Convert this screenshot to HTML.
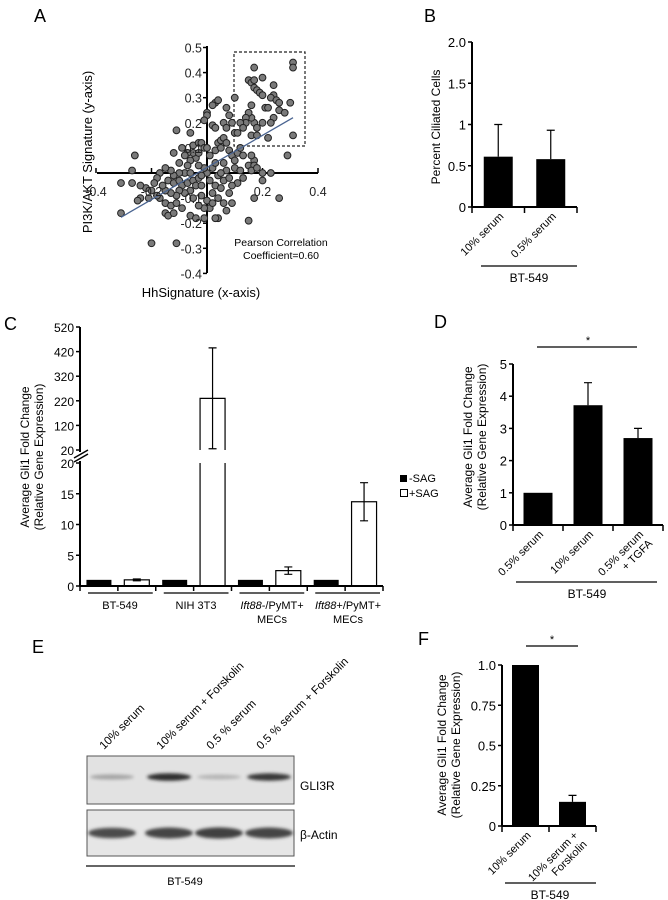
<!DOCTYPE html>
<html><head><meta charset="utf-8"><style>
html,body{margin:0;padding:0;background:#fff;}
svg{display:block;font-family:"Liberation Sans",sans-serif;}
</style></head><body>
<svg id="fig" width="668" height="900" viewBox="0 0 668 900" xmlns="http://www.w3.org/2000/svg">
<defs><filter id="blur" x="-20%" y="-50%" width="140%" height="200%"><feGaussianBlur stdDeviation="1.6"/></filter></defs>
<g id="pa">
 <text x="34" y="22" font-size="18">A</text>
 <text transform="translate(92,152) rotate(-90)" font-size="13" text-anchor="middle">PI3K/AKT Signature (y-axis)</text>
 <text x="201" y="297" font-size="13" text-anchor="middle">HhSignature (x-axis)</text>
 <text x="281" y="246" font-size="10.5" text-anchor="middle">Pearson Correlation</text>
 <text x="281" y="259" font-size="10.5" text-anchor="middle">Coefficient=0.60</text>
 <rect x="234" y="52" width="71" height="94" fill="none" stroke="#222" stroke-width="1.2" stroke-dasharray="3,2"/>
</g>
<g id="pb">
 <text x="424" y="22" font-size="18">B</text>
 <text transform="translate(440,127) rotate(-90)" font-size="12" text-anchor="middle">Percent Ciliated Cells</text>
 <line x1="481" y1="266" x2="577" y2="266" stroke="#000" stroke-width="1.3"/>
 <text x="529" y="282" font-size="12" text-anchor="middle">BT-549</text>
</g>
<g id="pc">
 <text x="4" y="330" font-size="18">C</text>
 <text transform="translate(29,457) rotate(-90)" font-size="12" text-anchor="middle">Average Gli1 Fold Change</text>
 <text transform="translate(43,457) rotate(-90)" font-size="12" text-anchor="middle">(Relative Gene Expression)</text>
 <rect x="400" y="475" width="7" height="7" fill="#000"/>
 <text x="409" y="482" font-size="11">-SAG</text>
 <rect x="400.5" y="489.5" width="7" height="7" fill="#fff" stroke="#000"/>
 <text x="409" y="497" font-size="11">+SAG</text>
 <text x="120" y="609" font-size="11" text-anchor="middle">BT-549</text>
 <text x="196" y="609" font-size="11" text-anchor="middle">NIH 3T3</text>
 <text x="272" y="609" font-size="11" text-anchor="middle"><tspan font-style="italic">Ift88</tspan>-/PyMT+</text>
 <text x="272" y="623" font-size="11" text-anchor="middle">MECs</text>
 <text x="348" y="609" font-size="11" text-anchor="middle"><tspan font-style="italic">Ift88</tspan>+/PyMT+</text>
 <text x="348" y="623" font-size="11" text-anchor="middle">MECs</text>
</g>
<g id="pd">
 <text x="434" y="328" font-size="18">D</text>
 <text transform="translate(472,437) rotate(-90)" font-size="12" text-anchor="middle">Average Gli1 Fold Change</text>
 <text transform="translate(486,437) rotate(-90)" font-size="12" text-anchor="middle">(Relative Gene Expression)</text>
 <line x1="537" y1="347" x2="637" y2="347" stroke="#000" stroke-width="1.2"/>
 <text x="588" y="344" font-size="11" text-anchor="middle">*</text>
 <line x1="516" y1="582" x2="657" y2="582" stroke="#000" stroke-width="1.3"/>
 <text x="587" y="598" font-size="12" text-anchor="middle">BT-549</text>
</g>
<g id="pe">
 <text x="32" y="653" font-size="18">E</text>
 <rect x="87" y="756" width="207" height="48" fill="#e2e2e2" stroke="#555" stroke-width="1"/>
 <rect x="87" y="810" width="207" height="46" fill="#e6e6e6" stroke="#555" stroke-width="1"/>
 <text x="300" y="790" font-size="12">GLI3R</text>
 <text x="300" y="839" font-size="12">β-Actin</text>
 <line x1="86" y1="866" x2="295" y2="866" stroke="#333" stroke-width="1.5"/>
 <text x="185" y="885" font-size="11" text-anchor="middle">BT-549</text>
</g>
<g id="pf">
 <text x="418" y="645" font-size="18">F</text>
 <text transform="translate(446,745) rotate(-90)" font-size="12" text-anchor="middle">Average Gli1 Fold Change</text>
 <text transform="translate(460,745) rotate(-90)" font-size="12" text-anchor="middle">(Relative Gene Expression)</text>
 <line x1="526" y1="646" x2="578" y2="646" stroke="#000" stroke-width="1.2"/>
 <text x="552" y="643" font-size="11" text-anchor="middle">*</text>
 <line x1="505" y1="883" x2="596" y2="883" stroke="#000" stroke-width="1.3"/>
 <text x="550" y="899" font-size="12" text-anchor="middle">BT-549</text>
</g>
</svg>
<script>
// ---------- Panel A data ----------
const scatterX = [0.17,0.31,0.31,0.15,0.16,0.17,0.2,0.17,0.18,0.19,0.2,0.24,0.24,0.23,0.25,0.26,0.3,0.21,0.22,0.26,0.28,0.24,0.2,0.23,0.17,0.18,0.16,0.16,0.15,0.14,0.14,0.16,0.18,0.22,0.31,0.1,0.12,0.1,0.11,0.13,
0.29,0.17,0.16,0.15,0.17,0.16,0.18,0.23,0.2,0.2,0.17,0.26,0.15,
0.03,0.04,0.02,0.07,0.0,0.0,-0.01,0.02,0.03,0.06,0.07,0.08,0.09,-0.11,-0.06,-0.05,-0.03,-0.02,-0.01,0.01,0.03,0.04,0.05,0.06,0.07,0.05,0.08,0.09,0.1,0.11,0.12,0.13,0.1,0.12,0.13,0.11,0.09,0.08,0.09,0.07,0.04,0.03,0.01,-0.01,0.0,-0.02,0.02,0.03,0.05,0.06,0.04,0.02,0.03,0.06,0.07,0.0,-0.01,-0.03,-0.04,-0.05,-0.06,-0.07,-0.08,-0.09,-0.07,-0.08,-0.1,-0.12,-0.13,-0.15,-0.17,-0.18,-0.14,-0.12,-0.1,-0.09,-0.07,-0.05,-0.04,-0.03,-0.02,-0.06,-0.08,-0.1,-0.11,-0.13,-0.15,-0.16,-0.19,-0.2,-0.22,-0.24,-0.27,-0.31,-0.27,-0.26,-0.21,-0.17,-0.15,-0.13,-0.11,-0.09,-0.15,-0.14,-0.12,-0.06,-0.04,-0.01,-0.03,-0.05,-0.2,-0.11,-0.31,-0.24,-0.25,-0.18,-0.06,-0.02,0.01,-0.1,-0.12,-0.03,0.0,0.05,0.08,0.04,0.02,0.06];
const scatterY = [0.42,0.44,0.42,0.37,0.36,0.37,0.38,0.34,0.33,0.32,0.31,0.35,0.31,0.3,0.29,0.28,0.28,0.26,0.26,0.25,0.24,0.22,0.2,0.2,0.2,0.18,0.22,0.27,0.24,0.22,0.2,0.15,0.15,0.14,0.15,0.3,0.2,0.16,0.16,0.18,
0.07,0.05,0.07,0.03,0.03,0.01,0.02,0.0,0.0,-0.03,-0.1,-0.1,-0.19,
0.28,0.29,0.27,0.26,0.24,0.23,0.21,0.19,0.18,0.2,0.18,0.23,0.2,0.17,0.16,0.11,0.12,0.12,0.1,0.07,0.09,0.12,0.13,0.14,0.12,0.1,0.09,0.07,0.05,0.08,0.1,0.07,0.02,0.01,-0.02,-0.04,-0.05,-0.08,-0.12,-0.15,-0.18,-0.18,-0.14,-0.14,-0.11,-0.09,-0.08,-0.05,-0.06,-0.03,-0.01,0.02,0.04,0.04,0.01,0.0,0.02,0.03,0.06,0.08,0.05,0.08,0.07,0.1,0.03,0.0,0.0,-0.01,0.01,0.02,0.0,-0.02,-0.03,-0.04,-0.03,-0.05,-0.04,-0.03,-0.05,-0.02,-0.05,-0.07,-0.08,-0.07,-0.09,-0.08,-0.07,-0.05,-0.04,-0.07,-0.06,-0.05,-0.04,-0.04,0.01,0.07,-0.1,-0.1,-0.12,-0.13,-0.12,-0.14,-0.16,-0.17,-0.16,-0.17,-0.18,-0.18,-0.13,-0.1,-0.28,-0.28,-0.16,-0.1,-0.11,-0.09,0.0,-0.01,-0.03,0.04,0.08,0.08,0.1,0.0,-0.02,-0.1,-0.12,-0.12];
const regression = [0.022, 0.64]; // intercept, slope
const regRange = [-0.31, 0.31];
const aXTicks = [-0.4,-0.2,0.2,0.4];
const aYTicks = [0.5,0.4,0.3,0.2,0.1,-0.1,-0.2,-0.3,-0.4];

// ---------- Panel B data ----------
const bCats = ['10% serum','0.5% serum'];
const bVals = [0.61,0.58];
const bErr = [0.39,0.35];
const bTicks = ['0','0.5','1','1.5','2.0'];
const bTickVals = [0,0.5,1,1.5,2];

// ---------- Panel C data ----------
const cGroups = ['BT-549','NIH 3T3','Ift88-/PyMT+ MECs','Ift88+/PyMT+ MECs'];
const cMinusSAG = [1,1,1,1];
const cPlusSAG = [1.0,230,2.5,13.7];
const cPlusErr = [0.15,205,0.6,3.1];
const cLowTicks = [0,5,10,15,20];
const cHighTicks = [20,120,220,320,420,520];

// ---------- Panel D data ----------
const dCats = ['0.5% serum','10% serum','0.5% serum + TGFA'];
const dVals = [1,3.72,2.7];
const dErr = [0,0.7,0.3];
const dTicks = [0,1,2,3,4,5];

// ---------- Panel E data ----------
const eLanes = ['10% serum','10% serum + Forskolin','0.5 % serum','0.5 % serum + Forskolin'];
const eGli3r = [0.3,0.9,0.22,0.85];
const eActin = [0.75,0.78,0.8,0.78];

// ---------- Panel F data ----------
const fCats = ['10% serum','10% serum + Forskolin'];
const fVals = [1.0,0.15];
const fErr = [0,0.04];
const fTicks = ['0','0.25','0.5','0.75','1.0'];
const fTickVals = [0,0.25,0.5,0.75,1.0];

const NS='http://www.w3.org/2000/svg';
function mk(tag, attrs, parent){const e=document.createElementNS(NS,tag);for(const k in attrs)e.setAttribute(k,attrs[k]);parent.appendChild(e);return e;}

// ===== Panel A =====
(function(){
 const g=document.getElementById('pa');
 const ax=v=>207+v*277.5, ay=v=>173-v*251;
 let l=mk('line',{x1:97,y1:173,x2:318,y2:173,stroke:'#000','stroke-width':2},g);
 
 
 l=mk('line',{x1:207,y1:46,x2:207,y2:273,stroke:'#000','stroke-width':2},g);
 
 
 [-0.4,-0.2,0,0.2,0.4].forEach(v=>{mk('line',{x1:ax(v),y1:173,x2:ax(v),y2:168,stroke:'#000','stroke-width':1.5},g);});
 aYTicks.concat([0]).forEach(v=>{mk('line',{x1:207,y1:ay(v),x2:203,y2:ay(v),stroke:'#000','stroke-width':1.5},g);});
 const pts=mk('g',{},g);
 
 
 for(let i=0;i<scatterX.length;i++){
  const c=mk('circle',{cx:ax(scatterX[i]),cy:ay(scatterY[i]),r:3.4,fill:'#7a7a7a',stroke:'#222','stroke-width':1},pts);
  
  
 }
 const rl=mk('line',{x1:ax(regRange[0]),y1:ay(regression[0]+regression[1]*regRange[0]),x2:ax(regRange[1]),y2:ay(regression[0]+regression[1]*regRange[1]),stroke:'#4a6491','stroke-width':1.3},g);
 
 
 aXTicks.forEach(v=>{
  const t=mk('text',{x:ax(v),y:196,'font-size':12.5,'text-anchor':'middle',fill:'#222'},g);t.textContent=String(v);
  
  
 });
 aYTicks.forEach(v=>{
  const t=mk('text',{x:202,y:ay(v)+5,'font-size':12.5,'text-anchor':'end',fill:'#222'},g);t.textContent=String(v);
  
  
 });
})();

// generic bar chart
function barChart(g, o){
 const y=v=>o.y0-v*o.ppu;
 const bw=(o.x1-o.xl)/o.vals.length;
 for(let i=0;i<o.vals.length;i++){
  const cx=o.xl+bw*(i+0.5);
  const r=mk('rect',{x:cx-o.w/2,y:y(o.vals[i]),width:o.w,height:o.vals[i]*o.ppu,fill:'#000'},g);
  
  
  if(o.err[i]>0){
   const e=mk('path',{d:`M${cx} ${y(o.vals[i])}V${y(o.vals[i]+o.err[i])}M${cx-4} ${y(o.vals[i]+o.err[i])}H${cx+4}`,stroke:'#000','stroke-width':1.2,fill:'none'},g);
   
   
  }
  if(i>0){mk('line',{x1:o.xl+bw*i,y1:o.y0,x2:o.xl+bw*i,y2:o.y0+6,stroke:'#000','stroke-width':1.5},g);}
  const lines=o.labels[i];
  lines.forEach((s,k)=>{
   const t=mk('text',{transform:`translate(${cx+6+k*9},${o.y0+10+k*9}) rotate(-45)`,'font-size':11,'text-anchor':'end'},g);t.textContent=s;
   
   
  });
 }
 let a=mk('line',{x1:o.xl,y1:o.y0,x2:o.x1,y2:o.y0,stroke:'#000','stroke-width':2},g);
 
 
 mk('line',{x1:o.x1,y1:o.y0,x2:o.x1,y2:o.y0+6,stroke:'#000','stroke-width':1.5},g);
 mk('line',{x1:o.xl,y1:o.y0,x2:o.xl,y2:o.y0+6,stroke:'#000','stroke-width':1.5},g);
 a=mk('line',{x1:o.xl,y1:o.y0,x2:o.xl,y2:y(o.tickVals[o.tickVals.length-1]),stroke:'#000','stroke-width':2},g);
 
 
 o.tickVals.forEach((v,i)=>{
  mk('line',{x1:o.xl,y1:y(v),x2:o.xl-4,y2:y(v),stroke:'#000','stroke-width':1.5},g);
  const t=mk('text',{x:o.xl-6,y:y(v)+5,'font-size':13,'text-anchor':'end'},g);t.textContent=o.tickText[i];
  
  
 });
}
barChart(document.getElementById('pb'),{xl:472,x1:577,y0:207,ppu:82.5,w:29,vals:bVals,err:bErr,cats:bCats,tickVals:bTickVals,tickText:bTicks,labels:[['10% serum'],['0.5% serum']]});
barChart(document.getElementById('pd'),{xl:513,x1:663,y0:525,ppu:32.2,w:29,vals:dVals,err:dErr,cats:dCats,tickVals:dTicks,tickText:dTicks.map(String),labels:[['0.5% serum'],['10% serum'],['0.5% serum','+ TGFA']]});
barChart(document.getElementById('pf'),{xl:502,x1:596,y0:826,ppu:161,w:27,vals:fVals,err:fErr,cats:fCats,tickVals:fTickVals,tickText:fTicks,labels:[['10% serum'],['10% serum +','Forskolin']]});

// ===== Panel C =====
(function(){
 const g=document.getElementById('pc');
 const y=v=> v<=20 ? 586-v*123/20 : 450-(v-20)*123/500;
 const xl=80,x1=383,n=cGroups.length*2,bw=(x1-xl)/n,w=25;
 for(let i=0;i<cGroups.length;i++){
  const c1=xl+bw*(2*i+0.5), c2=xl+bw*(2*i+1.5);
  let r=mk('rect',{x:c1-w/2,y:y(cMinusSAG[i]),width:w,height:586-y(cMinusSAG[i]),fill:'#000'},g);
  
  
  const v=cPlusSAG[i];
  if(v<=20){
   r=mk('rect',{x:c2-w/2,y:y(v),width:w,height:586-y(v),fill:'#fff',stroke:'#000','stroke-width':1.2},g);
  } else {
   r=mk('path',{d:`M${c2-w/2} 586V463M${c2+w/2} 586V463M${c2-w/2} 450V${y(v)}H${c2+w/2}V450`,fill:'none',stroke:'#000','stroke-width':1.2},g);
  }
  
  
  const e=mk('path',{d:`M${c2} ${y(v-cPlusErr[i])}V${y(v+cPlusErr[i])}M${c2-4} ${y(v+cPlusErr[i])}H${c2+4}M${c2-4} ${y(v-cPlusErr[i])}H${c2+4}`,stroke:'#000','stroke-width':1.2,fill:'none'},g);
  
  
  const gl=mk('line',{x1:xl+bw*2*i+8,y1:593,x2:xl+bw*(2*i+2)-3,y2:593,stroke:'#000','stroke-width':1.3},g);
  
  
 }
 for(let k=0;k<=n;k++){mk('line',{x1:xl+bw*k,y1:586,x2:xl+bw*k,y2:591,stroke:'#000','stroke-width':1.5},g);}
 let a=mk('line',{x1:xl,y1:586,x2:x1,y2:586,stroke:'#000','stroke-width':2},g);
 
 
 a=mk('path',{d:`M${xl} 586V461M${xl} 452V${y(520)}`,stroke:'#000','stroke-width':2,fill:'none'},g);
 
 
 a=mk('path',{d:`M74 458L88 450M74 462L88 454`,stroke:'#000','stroke-width':1.5,fill:'none'},g);
 
 
 const tk=(v,yy)=>{mk('line',{x1:xl,y1:yy,x2:xl-4,y2:yy,stroke:'#000','stroke-width':1.5},g);
  const t=mk('text',{x:xl-6,y:yy+5,'font-size':12,'text-anchor':'end'},g);t.textContent=String(v);
  
  };
 cLowTicks.forEach(v=>tk(v,y(v)));
 cHighTicks.forEach(v=>tk(v,v===20?450:y(v)));
})();

// ===== Panel E =====
(function(){
 const g=document.getElementById('pe');
 const centers=[110,167,217,267];
 eLanes.forEach((s,i)=>{
  const t=mk('text',{transform:`translate(${centers[i]-6},${750}) rotate(-45)`,'font-size':11.5},g);t.textContent=s;
  
  
  const shade=v=>{const c=Math.round(225-200*v);return `rgb(${c},${c},${c})`;};
  let b=mk('ellipse',{cx:centers[i]+2,cy:777,rx:22,ry:2+2*eGli3r[i],fill:shade(eGli3r[i]),filter:'url(#blur)'},g);
  
  
  b=mk('ellipse',{cx:centers[i]+2,cy:833,rx:24,ry:7*eActin[i],fill:shade(eActin[i]),filter:'url(#blur)'},g);
  
  
 });
})();
</script>
</body></html>
